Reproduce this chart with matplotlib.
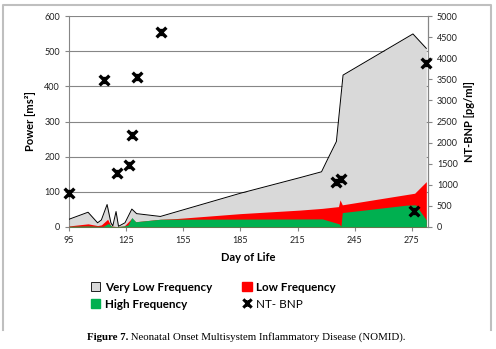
import matplotlib
matplotlib.use("Agg")
import matplotlib.pyplot as plt
from matplotlib.path import Path
from matplotlib.patches import Patch
from matplotlib.lines import Line2D

# ---- data ----
vlf_days = [95, 105, 110, 112, 115, 117, 118, 119.7, 121, 124.4, 128, 130.5, 143, 185, 216, 227.6, 231, 235.4, 238.9, 275.6, 282.6]
vlf_power = [22, 42, 12, 20, 64, 12, 3, 44, 2, 12, 51, 38, 30, 96, 140, 157, 195, 243, 432, 549, 508]

lf_days = [95, 105, 110, 112, 115.3, 117, 120, 124, 128, 130, 143, 151.5, 185, 216, 228, 236.5, 237.3, 238.5, 276.5, 282.6]
lf_power = [3, 9, 4, 6, 22, 3, 1, 3, 25, 15, 22, 24, 38, 48, 53, 58, 77, 63, 96, 129]

hf_days = [95, 105, 110, 113, 115.6, 117.5, 120, 124, 126, 128, 130, 143, 228, 236.8, 237.8, 238.5, 272, 277, 282.6]
hf_power = [2, 3, 2, 2, 10, 2, 1, 3, 6, 27, 15, 22, 23, 9, 2, 41, 62, 63, 20]

bnp_days = [95, 113.5, 120, 126.5, 128.2, 130.5, 143.3, 235.4, 238, 276, 282.6]
bnp_values = [813, 3480, 1290, 1470, 2190, 3550, 4610, 1060, 1130, 380, 3880]

x_ticks = [95, 125, 155, 185, 215, 245, 275]
left_ticks = [0, 100, 200, 300, 400, 500, 600]
right_ticks = [0, 500, 1000, 1500, 2000, 2500, 3000, 3500, 4000, 4500, 5000]

GRAY = "#d9d9d9"
RED = "#ff0000"
GREEN = "#00b050"
AXC = "#868686"

star = Path([(-1, -1), (1, 1), (-1, 1), (1, -1), (0, -0.75), (0, 0.75)],
            [Path.MOVETO, Path.LINETO, Path.MOVETO, Path.LINETO, Path.MOVETO, Path.LINETO])

fig = plt.figure(figsize=(4.96, 3.49), dpi=100)
ax = fig.add_axes([69 / 496, 1 - 227 / 349, 359 / 496, 211 / 349])

ax.fill_between(vlf_days, vlf_power, 0, color=GRAY, linewidth=0, zorder=2)
ax.plot(vlf_days, vlf_power, color="black", linewidth=0.7, zorder=3)
ax.fill_between(lf_days, lf_power, 0, color=RED, linewidth=0, zorder=4)
ax.fill_between(hf_days, hf_power, 0, color=GREEN, linewidth=0, zorder=5)

ax.set_xlim(95, 283.5)
ax.set_ylim(0, 600)
ax.set_xticks(x_ticks)
ax.set_yticks(left_ticks)
ax.grid(axis="y", color=AXC, linewidth=0.8, zorder=0)
ax.set_axisbelow(True)

ax.spines["top"].set_visible(False)
for s in ["left", "bottom", "right"]:
    ax.spines[s].set_color(AXC)
    ax.spines[s].set_linewidth(0.8)

ax.tick_params(axis="both", direction="out", length=3, color=AXC, width=0.8, labelsize=6.5, labelcolor="#222222")
for lab in ax.get_xticklabels() + ax.get_yticklabels():
    lab.set_family("Lato")
ax.set_xlabel("Day of Life", fontfamily="Lato", fontweight="bold", fontsize=8, labelpad=5)
ax.set_ylabel("Power [ms²]", fontfamily="Lato", fontweight="bold", fontsize=8, labelpad=6)

ax2 = ax.twinx()
ax2.set_ylim(0, 5000)
ax2.set_yticks(right_ticks)
for s in ["top", "left", "bottom"]:
    ax2.spines[s].set_visible(False)
ax2.spines["right"].set_color(AXC)
ax2.spines["right"].set_linewidth(0.8)
ax2.tick_params(axis="y", direction="out", length=3, color=AXC, width=0.8, labelsize=6.5, labelcolor="#222222")
for lab in ax2.get_yticklabels():
    lab.set_family("Lato")
ax2.set_ylabel("NT-BNP [pg/ml]", fontfamily="Lato", fontweight="bold", fontsize=8, labelpad=4)
ax2.plot(bnp_days, bnp_values, linestyle="none", marker=star, markersize=7,
         markeredgewidth=2.4, color="black", clip_on=False, zorder=6)

handles = [
    Patch(facecolor=GRAY, edgecolor="black", linewidth=0.6, label="Very Low Frequency"),
    Patch(facecolor=GREEN, edgecolor=GREEN, label="High Frequency"),
    Patch(facecolor=RED, edgecolor=RED, label="Low Frequency"),
    Line2D([], [], linestyle="none", marker=star, markersize=6, markeredgewidth=2.2, color="black", label="NT- BNP"),
]
leg = fig.legend(handles=handles, ncol=2, loc="upper left", bbox_to_anchor=(86 / 496, 1 - 277 / 349),
                 frameon=False, prop=dict(family="Lato", weight="bold", size=8.4),
                 handlelength=0.8, handleheight=0.8, handletextpad=0.4, columnspacing=2.6,
                 labelspacing=0.5, borderaxespad=0)
leg.get_texts()[3].set_fontweight("normal")

# outer frame (no bottom line)
fig.add_artist(Line2D([3 / 496, 3 / 496, 491 / 496, 491 / 496],
                      [1 - 330 / 349, 1 - 5 / 349, 1 - 5 / 349, 1 - 330 / 349],
                      transform=fig.transFigure, color="#bfbfbf", linewidth=1.5))

# caption
fig.canvas.draw()
r = fig.canvas.get_renderer()
t1 = fig.text(0, 0, "Figure 7.", fontfamily="Liberation Serif", fontweight="bold", fontsize=7.8)
t2 = fig.text(0, 0, " Neonatal Onset Multisystem Inflammatory Disease (NOMID).", fontfamily="Liberation Serif", fontsize=7.8)
w1 = t1.get_window_extent(r).width
w2 = t2.get_window_extent(r).width
total = w1 + w2
x0 = (496 * 0.497 - total / 2)
y0 = 1 - 340 / 349
t1.set_position((x0 / 496, y0))
t2.set_position(((x0 + w1) / 496, y0))

fig.savefig("out.png", dpi=100)
